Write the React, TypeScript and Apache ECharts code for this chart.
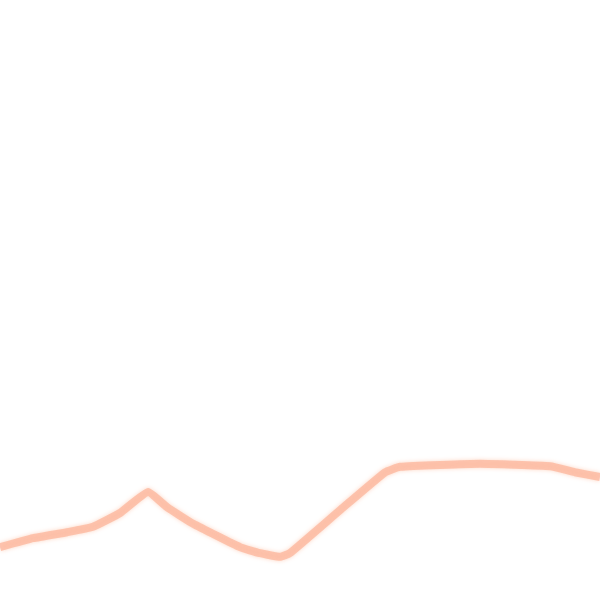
import { useEffect, useRef } from 'react';
import * as echarts from 'echarts';

// positions along the run (0–100) and the measured level at each
const steps = [0, 5.5, 11.2, 15.5, 20, 24.7, 27.8, 32.2, 40, 43.3, 46.7, 48.3, 56.7, 64.2, 66.7, 80, 91.7, 95.8, 100];
const levels = [8.8, 10.3, 11.3, 12.2, 14.5, 18, 15.5, 12.7, 8.8, 7.8, 7.2, 7.8, 15, 21.3, 22.2, 22.7, 22.3, 21.3, 20.5];

export default function App() {
  const ref = useRef<HTMLDivElement>(null);

  useEffect(() => {
    document.body.style.margin = '0';
    if (!ref.current) return;
    const chart = echarts.init(ref.current, null, { renderer: 'svg' });
    chart.setOption({
      animation: false,
      backgroundColor: '#ffffff',
      grid: { left: 0, right: 0, top: 0, bottom: 0 },
      xAxis: { type: 'value', min: 0, max: 100, show: false },
      yAxis: { type: 'value', min: 0, max: 100, show: false },
      series: [
        {
          type: 'line',
          data: steps.map((s, i) => [s, levels[i]]),
          showSymbol: false,
          smooth: 0.12,
          lineStyle: {
            color: '#fdb9a0',
            width: 8,
            opacity: 0.8,
            shadowColor: 'rgba(253, 200, 175, 0.9)',
            shadowBlur: 4,
          },
        },
      ],
    });
    return () => chart.dispose();
  }, []);

  return <div ref={ref} style={{ width: 600, height: 600 }} />;
}
